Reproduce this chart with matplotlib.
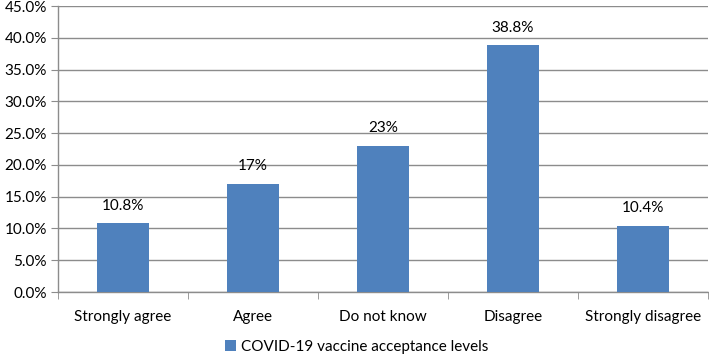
import matplotlib
matplotlib.use("Agg")
import matplotlib.pyplot as plt
from matplotlib.ticker import MultipleLocator, FuncFormatter

categories = ["Strongly agree", "Agree", "Do not know", "Disagree", "Strongly disagree"]
values = [10.8, 17, 23, 38.8, 10.4]
value_labels = ["10.8%", "17%", "23%", "38.8%", "10.4%"]
series_name = "COVID-19 vaccine acceptance levels"

plt.rcParams['font.family'] = ['Lato', 'DejaVu Sans']

fig = plt.figure(figsize=(7.09, 3.58), dpi=100)
ax = fig.add_axes([58/709, 66/358, 650/709, 286/358])

x = list(range(len(categories)))
bars = ax.bar(x, values, width=0.4, color="#4F81BD", label=series_name, zorder=3)
for xi, v, lab in zip(x, values, value_labels):
    ax.text(xi, v + 1.7, lab, ha="center", va="bottom", fontsize=11, color="black")

ax.set_xlim(-0.5, len(categories) - 0.5)
ax.set_ylim(0, 45)
ax.yaxis.set_major_locator(MultipleLocator(5))
ax.yaxis.set_major_formatter(FuncFormatter(lambda v, p: f"{v:.1f}%"))
ax.grid(axis="y", color="#8C8C8C", linewidth=1, zorder=0)
ax.set_axisbelow(True)

ax.set_xticks(x)
ax.set_xticklabels(categories)
ax.tick_params(axis="x", length=0, labelsize=11, pad=13)
ax.set_xticks([i - 0.5 for i in range(len(categories) + 1)], minor=True)
ax.tick_params(axis="x", which="minor", length=5, color="#8C8C8C", direction="out")
ax.tick_params(axis="y", length=5, color="#8C8C8C", labelsize=11, pad=3)

for s in ["top", "right"]:
    ax.spines[s].set_visible(False)
for s in ["left", "bottom"]:
    ax.spines[s].set_color("#8C8C8C")
    ax.spines[s].set_linewidth(1)

leg = fig.legend(handles=[bars], labels=[series_name], loc="center", bbox_to_anchor=(0.503, 0.031),
                 frameon=False, fontsize=11, handlelength=0.75, handleheight=0.75, handletextpad=0.35)

fig.savefig("out.png", dpi=100)
